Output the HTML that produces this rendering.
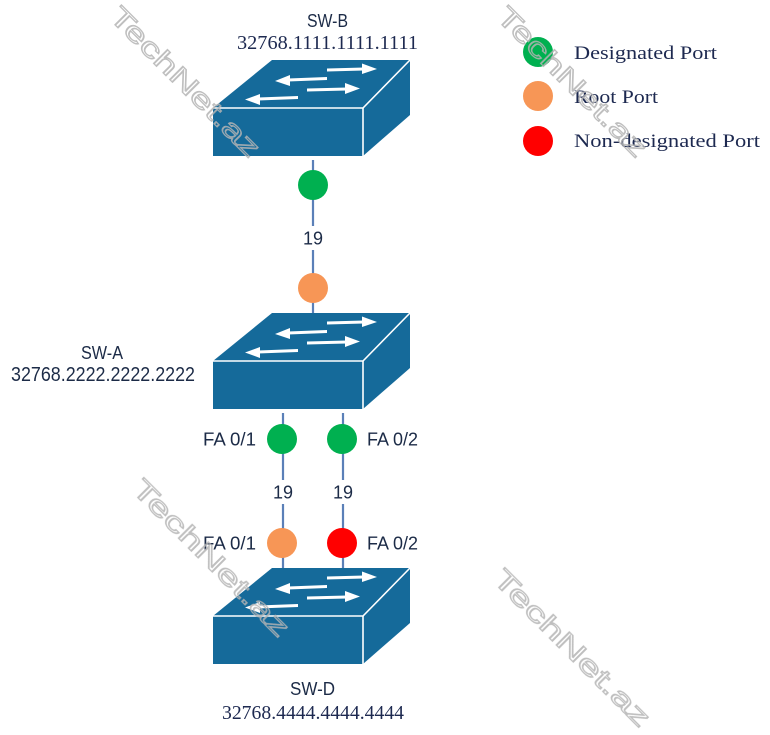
<!DOCTYPE html>
<html>
<head>
<meta charset="utf-8">
<style>
  html, body { margin:0; padding:0; background:#ffffff; }
  body { width:770px; height:735px; overflow:hidden; }
  svg { display:block; }
  .sans { font-family: "Liberation Sans", "DejaVu Sans", sans-serif; fill:#1c2b47; }
  .serif { font-family: "Liberation Serif", "DejaVu Serif", serif; fill:#1d2950; }
  .wm { font-family: "Liberation Sans", "DejaVu Sans", sans-serif; fill:none; stroke:#b4b4b4; stroke-width:1.3; }
</style>
</head>
<body>
<svg width="770" height="735" viewBox="0 0 770 735" xmlns="http://www.w3.org/2000/svg">
  <defs>
    <g id="sw">
      <polygon points="272,60 410,60 363,108 213,108" fill="#156a9a"/>
      <polygon points="213,108 363,108 363,156 213,156" fill="#156a9a"/>
      <polygon points="363,108 410,60 410,115 363,156" fill="#156a9a"/>
      <polyline points="213,108 363,108 410,60" fill="none" stroke="#ffffff" stroke-width="1.6"/>
      <line x1="363" y1="108" x2="363" y2="156" stroke="#ffffff" stroke-width="1.6"/>
      <g fill="#ffffff">
        <polygon points="327,68.5 364,67.5 364,70.5 327,71.5"/>
        <polygon points="362,63.5 377,69 362,74"/>
        <polygon points="288,78.5 327,77 327,80 288,81.5"/>
        <polygon points="290,75 275,81 290,86"/>
        <polygon points="307,88.5 347,87.5 347,90.5 307,91.5"/>
        <polygon points="345,83 360,88.5 345,94"/>
        <polygon points="258,97.5 298,96 298,99 258,100.5"/>
        <polygon points="260,94 245,99.5 260,105"/>
      </g>
    </g>
  </defs>

  <!-- links -->
  <g stroke="#5b80b8" stroke-width="2.2">
    <line x1="313" y1="160" x2="313" y2="313"/>
    <line x1="283" y1="413" x2="283" y2="568"/>
    <line x1="343" y1="413" x2="343" y2="568"/>
  </g>

  <!-- switches -->
  <use href="#sw"/>
  <use href="#sw" transform="translate(0,253)"/>
  <use href="#sw" transform="translate(0,508)"/>

  <!-- port circles -->
  <circle cx="313" cy="185" r="15" fill="#00b050"/>
  <circle cx="313" cy="288" r="15" fill="#f79656"/>
  <circle cx="282" cy="439" r="15" fill="#00b050"/>
  <circle cx="342" cy="439" r="15" fill="#00b050"/>
  <circle cx="282" cy="543" r="15" fill="#f79656"/>
  <circle cx="342" cy="543" r="15" fill="#ff0000"/>

  <!-- cost labels -->
  <rect x="300" y="226" width="26" height="24" fill="#ffffff"/>
  <text class="sans" x="313" y="244.5" font-size="18" text-anchor="middle">19</text>
  <rect x="270" y="480" width="26" height="24" fill="#ffffff"/>
  <rect x="330" y="480" width="26" height="24" fill="#ffffff"/>
  <text class="sans" x="283" y="498.5" font-size="18" text-anchor="middle">19</text>
  <text class="sans" x="343" y="498.5" font-size="18" text-anchor="middle">19</text>

  <!-- port labels -->
  <text class="sans" x="203" y="445.5" font-size="18" textLength="53" lengthAdjust="spacingAndGlyphs">FA 0/1</text>
  <text class="sans" x="367" y="445.5" font-size="18" textLength="51" lengthAdjust="spacingAndGlyphs">FA 0/2</text>
  <text class="sans" x="203" y="549.5" font-size="18" textLength="53" lengthAdjust="spacingAndGlyphs">FA 0/1</text>
  <text class="sans" x="367" y="549.5" font-size="18" textLength="51" lengthAdjust="spacingAndGlyphs">FA 0/2</text>

  <!-- switch labels -->
  <text class="sans" x="307" y="27" font-size="18" textLength="41" lengthAdjust="spacingAndGlyphs">SW-B</text>
  <text class="serif" x="237" y="49" font-size="20" textLength="181" lengthAdjust="spacingAndGlyphs">32768.1111.1111.1111</text>

  <text class="sans" x="81" y="359" font-size="18" textLength="42" lengthAdjust="spacingAndGlyphs">SW-A</text>
  <text class="sans" x="11" y="381" font-size="20" textLength="184" lengthAdjust="spacingAndGlyphs">32768.2222.2222.2222</text>

  <text class="sans" x="290" y="695" font-size="18" textLength="45" lengthAdjust="spacingAndGlyphs">SW-D</text>
  <text class="serif" x="222" y="719" font-size="20" textLength="182" lengthAdjust="spacingAndGlyphs">32768.4444.4444.4444</text>

  <!-- legend -->
  <circle cx="538" cy="52" r="15" fill="#00b050"/>
  <circle cx="538" cy="96" r="15" fill="#f79656"/>
  <circle cx="538" cy="141" r="15" fill="#ff0000"/>
  <text class="serif" x="574" y="59" font-size="19" textLength="143" lengthAdjust="spacingAndGlyphs">Designated Port</text>
  <text class="serif" x="574" y="103" font-size="19" textLength="84" lengthAdjust="spacingAndGlyphs">Root Port</text>
  <text class="serif" x="574" y="147" font-size="19" textLength="186" lengthAdjust="spacingAndGlyphs">Non-designated Port</text>

  <!-- watermarks -->
  <g opacity="0.85">
    <text class="wm" font-size="27" text-anchor="middle" textLength="200" lengthAdjust="spacingAndGlyphs" transform="translate(185,82) rotate(45)" y="9">TechNet.az</text>
    <text class="wm" font-size="27" text-anchor="middle" textLength="200" lengthAdjust="spacingAndGlyphs" transform="translate(572,82) rotate(45)" y="9">TechNet.az</text>
    <text class="wm" font-size="27" text-anchor="middle" textLength="210" lengthAdjust="spacingAndGlyphs" transform="translate(211,558) rotate(45)" y="9">TechNet.az</text>
    <text class="wm" font-size="27" text-anchor="middle" textLength="210" lengthAdjust="spacingAndGlyphs" transform="translate(572,648) rotate(45)" y="9">TechNet.az</text>
  </g>
</svg>
</body>
</html>
